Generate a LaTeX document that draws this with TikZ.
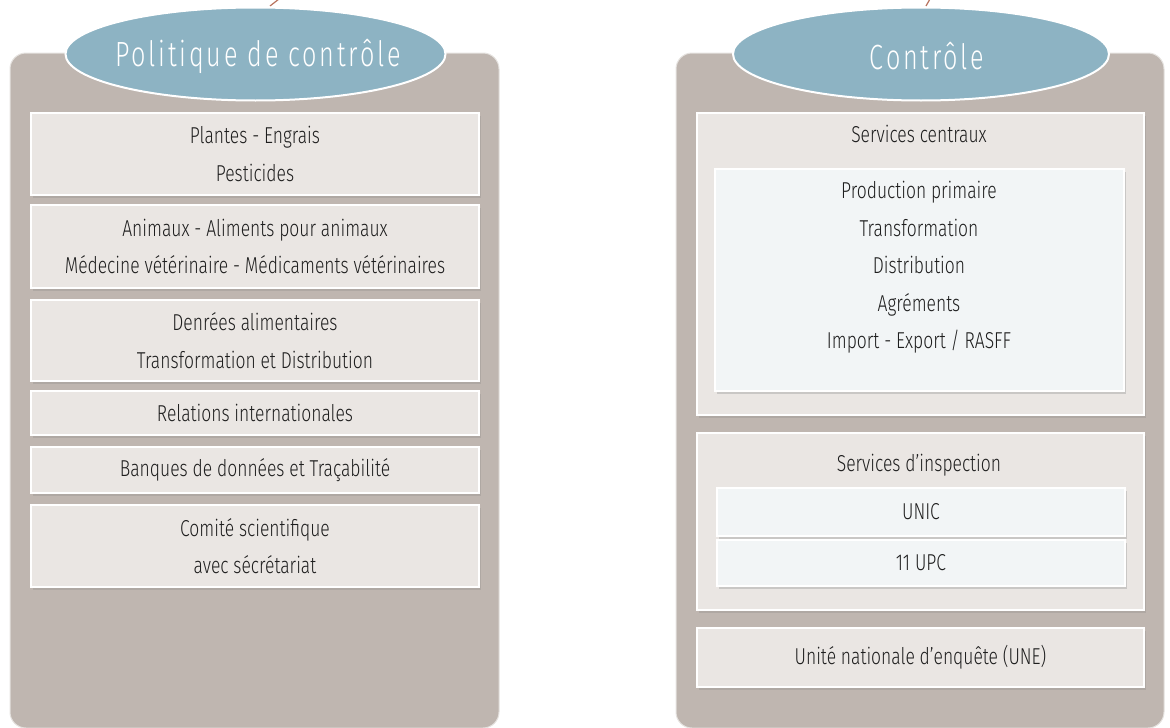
\documentclass[tikz,border=0pt]{standalone}
\usepackage{fontspec}
\setmainfont{Fira Sans Light}[FakeStretch=0.76]
\newfontfamily\titlefont{Fira Sans Light}[FakeStretch=0.72, LetterSpace=8]
\usetikzlibrary{shapes.geometric,shadows}
\definecolor{panel}{HTML}{BFB6B0}
\definecolor{boxfill}{HTML}{EAE6E3}
\definecolor{innerfill}{HTML}{F2F5F6}
\definecolor{ellfill}{HTML}{8DB3C3}
\definecolor{txt}{HTML}{1E1E1E}
\definecolor{linkred}{HTML}{B8735E}
\tikzset{
  panelbox/.style={fill=panel, draw=white!60!panel, line width=1pt, rounded corners=16pt},
  titleell/.style={fill=ellfill, draw=white, line width=2pt},
  titletext/.style={text=white, inner sep=0pt, font=\titlefont\fontsize{35}{40}\selectfont},
  itembox/.style={anchor=north west, fill=boxfill, draw=white, line width=2pt, inner sep=0pt,
    text=txt, align=center, font=\fontsize{23}{37.5}\selectfont,
    drop shadow={opacity=0.25, shadow xshift=2pt, shadow yshift=-3pt}},
  subbox/.style={anchor=north west, fill=innerfill, draw=white, line width=2pt, inner sep=0pt,
    text=txt, align=center, font=\fontsize{23}{37.5}\selectfont,
    drop shadow={opacity=0.3, shadow xshift=2pt, shadow yshift=-3pt}},
  label/.style={text=txt, align=center, font=\fontsize{23}{37.5}\selectfont},
  link/.style={draw=linkred, line width=1.2pt}
}
\begin{document}
\begin{tikzpicture}[x=1pt,y=-1pt]
\useasboundingbox (0,0) rectangle (1170,728);
% panels
\path[panelbox] (10,53) rectangle (499,728);
\path[panelbox] (676,53) rectangle (1164,728);
% links going off top
\coordinate (l1a) at (270,6);
\coordinate (l1b) at (279,-1);
\coordinate (l2a) at (926,6);
\coordinate (l2b) at (930,-1);
\draw[link] (l1a) -- (l1b);
\draw[link] (l2a) -- (l2b);
% titles
\path[titleell] (255.5,54) ellipse [x radius=190pt, y radius=46.5pt];
\path[titleell] (921,54) ellipse [x radius=188pt, y radius=46.5pt];
\node[titletext] (t1) at (258,56) {Politique de contrôle};
\node[titletext] (t2) at (927,56) {Contrôle};
% left column
\node[itembox, minimum width=448pt, minimum height=82pt] (b1) at (30,112) {Plantes - Engrais\\Pesticides};
\node[itembox, minimum width=448pt, minimum height=83pt] (b2) at (30,204) {Animaux - Aliments pour animaux\\Médecine vétérinaire - Médicaments vétérinaires};
\node[itembox, minimum width=448pt, minimum height=81pt] (b3) at (30,299) {Denrées alimentaires\\Transformation et Distribution};
\node[itembox, minimum width=448pt, minimum height=44pt] (b4) at (30,390) {Relations internationales};
\node[itembox, minimum width=448pt, minimum height=46pt] (b5) at (30,446) {Banques de données et Traçabilité};
\node[itembox, minimum width=448pt, minimum height=82pt] (b6) at (30,504) {Comité scientifique\\avec sécrétariat};
% right column
\node[itembox, minimum width=447pt, minimum height=302pt] (sc) at (696,112) {};
\node[label] (sct) at (919,134) {Services centraux};
\node[subbox, minimum width=409pt, minimum height=222pt] (sci) at (714,168) {};
\node[label, anchor=north] (scl) at (919,178) {Production primaire\\Transformation\\Distribution\\Agréments\\Import - Export / RASFF};
\node[itembox, minimum width=447pt, minimum height=177pt] (si) at (696,432) {};
\node[label] (sit) at (919,465) {Services d’inspection};
\node[subbox, minimum width=408pt, minimum height=48pt] (unic) at (716,487) {UNIC};
\node[subbox, minimum width=408pt, minimum height=46pt] (upc) at (716,539) {11 UPC};
\node[itembox, minimum width=447pt, minimum height=59pt] (une) at (696,627) {Unité nationale d’enquête (UNE)};
\end{tikzpicture}
\end{document}
